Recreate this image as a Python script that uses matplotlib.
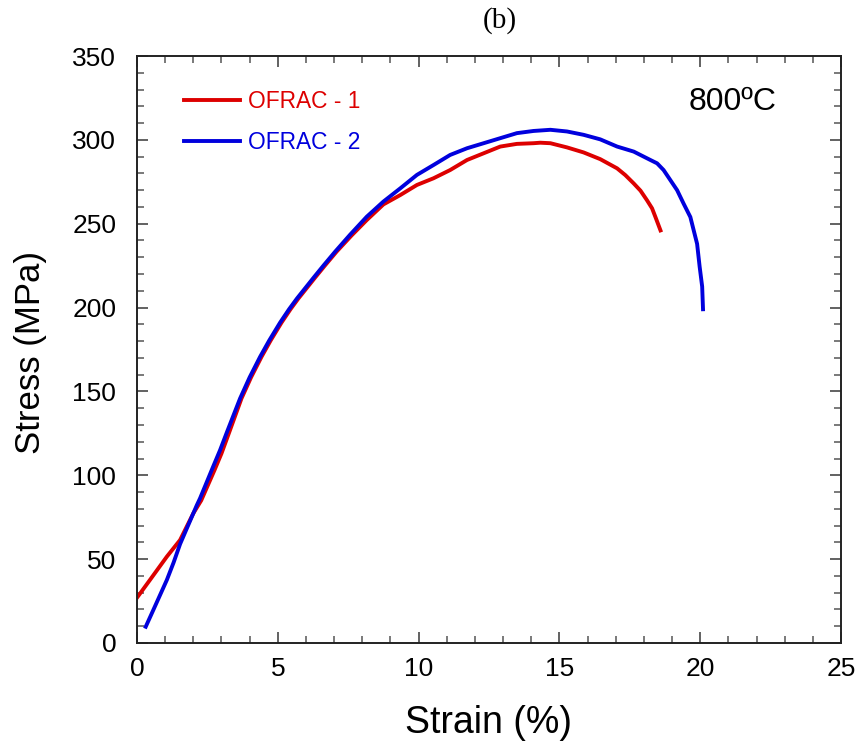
import matplotlib
matplotlib.use("Agg")
import matplotlib.pyplot as plt
from matplotlib.ticker import MultipleLocator

# Data
strain_1 = [0, 0.46, 1.06, 1.53, 2.0, 2.28, 2.75, 3.0, 3.25, 3.71, 4.05, 4.42, 4.75, 5.13,
            5.45, 5.73, 6.32, 6.67, 7.09, 7.62, 8.16, 8.75, 9.35, 9.94, 10.53, 11.12,
            11.72, 12.31, 12.9, 13.49, 14.08, 14.32, 14.68, 15.27, 15.86, 16.45, 17.05,
            17.34, 17.64, 17.88, 18.11, 18.29, 18.41, 18.59]
stress_1 = [27, 37.6, 51.5, 61.4, 77.3, 85, 103, 113, 124.5, 145.8, 158.4, 170.6, 180.5,
            191, 199, 205.4, 217.8, 225, 233.4, 243, 252.2, 261.5, 267.1, 273.1, 277.1,
            282, 288, 292, 296, 297.6, 298, 298.3, 298, 295.5, 292.5, 288.5, 283,
            279, 274, 269.7, 264, 259.2, 254, 246]

strain_2 = [0.31, 0.58, 1.06, 1.3, 1.53, 2.12, 2.24, 2.7, 2.95, 3.2, 3.66, 4.0, 4.37, 4.7,
            5.08, 5.4, 5.68, 6.27, 6.62, 7.04, 7.57, 8.16, 8.75, 9.35, 9.94, 10.53, 11.12,
            11.72, 12.31, 12.9, 13.49, 14.08, 14.68, 15.27, 15.86, 16.45, 17.05, 17.64,
            18.23, 18.47, 18.7, 18.94, 19.18, 19.41, 19.65, 19.77, 19.89, 19.98, 20.07,
            20.1]
stress_2 = [9.7, 19.7, 37.6, 48, 59, 82, 86.3, 105, 115, 126, 145.8, 158.4, 170.6, 180.5,
            191, 199, 205.4, 217.8, 225, 233.4, 243.5, 254.2, 263.2, 271.1, 279.1, 285,
            291, 295, 298, 301, 304, 305.3, 306, 305, 303, 300.3, 296, 293, 288, 286,
            282, 276, 270, 262, 254, 246, 238, 224.4, 212.5, 199]

labels = ["OFRAC - 1", "OFRAC - 2"]
colors = ["#dd0000", "#0000dd"]

plt.rcParams['font.family'] = ['Liberation Sans', 'DejaVu Sans']

fig = plt.figure(figsize=(8.62, 7.46), dpi=100)
ax = fig.add_axes([137/862, 103/746, 704/862, 587/746])

ax.plot(strain_1, stress_1, color=colors[0], lw=2.8, label=labels[0],
        solid_joinstyle='round')
ax.plot(strain_2, stress_2, color=colors[1], lw=2.8, label=labels[1],
        solid_joinstyle='round')

ax.set_xlim(0, 25)
ax.set_ylim(0, 350)
ax.xaxis.set_major_locator(MultipleLocator(5))
ax.xaxis.set_minor_locator(MultipleLocator(1))
ax.yaxis.set_major_locator(MultipleLocator(50))
ax.yaxis.set_minor_locator(MultipleLocator(10))
ax.tick_params(which='both', direction='in', top=True, right=True, color='#555555')
ax.tick_params(which='major', length=8, width=1.3, labelsize=19)
ax.tick_params(axis='x', which='major', pad=10)
ax.tick_params(axis='y', which='major', pad=15)
ax.tick_params(which='minor', length=5, width=1.1)
for s in ax.spines.values():
    s.set_linewidth(1.4)
    s.set_color('#222222')

ax.set_xlabel("Strain (%)", fontsize=27)
ax.set_ylabel("Stress (MPa)", fontsize=25)
ax.xaxis.set_label_coords(0.5, -0.105)
ax.yaxis.set_label_coords(-0.128, 0.495)

leg = ax.legend(loc='upper left', bbox_to_anchor=(0.038, 0.977), frameon=False,
                fontsize=16.4, labelcolor='linecolor', handlelength=2.45,
                handletextpad=0.35, labelspacing=0.8)

ax.text((733 - 137) / 704, (643 - 102) / 587, "800ºC", transform=ax.transAxes,
        fontsize=23, ha='center', va='center')

fig.text(500/862, 1 - 21/746, "(b)", fontsize=21, ha='center', va='center',
         family=['Liberation Serif', 'DejaVu Serif'])

fig.savefig("out.png", dpi=100)
